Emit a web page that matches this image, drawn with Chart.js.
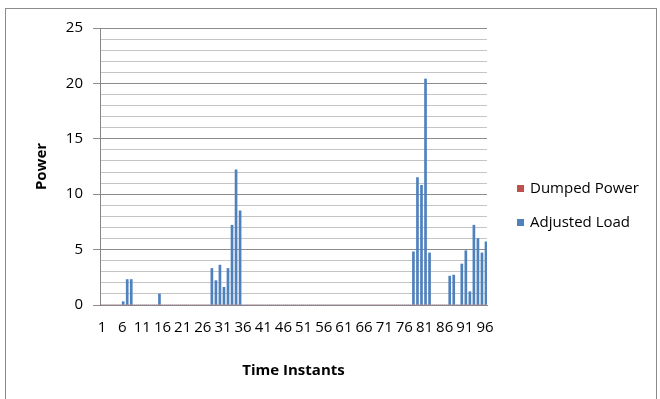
<!DOCTYPE html>
<html>
<head>
<meta charset="utf-8">
<script src="https://cdn.jsdelivr.net/npm/chart.js@4"></script>
<style>
  html, body { margin: 0; padding: 0; background: #fff; }
  #c { display: block; }
</style>
</head>
<body>
<canvas id="c" width="660" height="399"></canvas>
<script>
const categories = [
  '1','2','3','4','5','6','7','8','9','10','11','12','13','14','15','16','17','18','19','20',
  '21','22','23','24','25','26','27','28','29','30','31','32','33','34','35','36','37','38','39','40',
  '41','42','43','44','45','46','47','48','49','50','51','52','53','54','55','56','57','58','59','60',
  '61','62','63','64','65','66','67','68','69','70','71','72','73','74','75','76','77','78','79','80',
  '81','82','83','84','85','86','87','88','89','90','91','92','93','94','95','96'
];
const dumpedPower = [
  0,0,0,0,0,0,0,0,0,0, 0,0,0,0,0,0,0,0,0,0,
  0,0,0,0,0,0,0,0,0,0, 0,0,0,0,0,0,0,0,0,0,
  0,0,0,0,0,0,0,0,0,0, 0,0,0,0,0,0,0,0,0,0,
  0,0,0,0,0,0,0,0,0,0, 0,0,0,0,0,0,0,0,0,0,
  0,0,0,0,0,0,0,0,0,0, 0,0,0,0,0,0
];
const adjustedLoad = [
  0,0,0,0,0,0.3,2.3,2.3,0,0, 0,0,0,0,1.0,0,0,0,0,0,
  0,0,0,0,0,0,0,3.3,2.2,3.6, 1.6,3.3,7.2,12.2,8.5,0,0,0,0,0,
  0,0,0,0,0,0,0,0,0,0, 0,0,0,0,0,0,0,0,0,0,
  0,0,0,0,0,0,0,0,0,0, 0,0,0,0,0,0,0,4.8,11.5,10.8,
  20.4,4.7,0,0,0,0,2.6,2.7,0,3.7, 4.9,1.2,7.2,6.0,4.7,5.7
];
const xTickLabels = ['1','6','11','16','21','26','31','36','41','46','51','56','61','66','71','76','81','86','91','96'];
const yTickLabels = [0, 5, 10, 15, 20, 25];
const seriesNames = ['Dumped Power', 'Adjusted Load'];
const seriesColors = ['#C0504D', '#4F81BD'];

const FONT = '"Open Sans", "Liberation Sans", sans-serif';

const framePlugin = {
  id: 'frame',
  beforeDraw(chart) {
    const ctx = chart.ctx;
    ctx.save();
    ctx.fillStyle = '#ffffff';
    ctx.fillRect(0, 0, chart.width, chart.height);
    ctx.strokeStyle = '#8c8c8c';
    ctx.lineWidth = 1;
    ctx.strokeRect(5.5, 8.5, 651, 400);
    ctx.restore();
  }
};

const legendPlugin = {
  id: 'customLegend',
  afterDraw(chart) {
    const ctx = chart.ctx;
    ctx.save();
    ctx.font = '15px ' + FONT;
    ctx.textBaseline = 'middle';
    ctx.textAlign = 'left';
    chart.data.datasets.forEach((ds, i) => {
      const y = 189 + i * 34;
      ctx.fillStyle = ds.backgroundColor;
      ctx.fillRect(517, y - 4, 7, 7);
      ctx.fillStyle = '#000';
      ctx.fillText(ds.label, 530, y);
    });
    ctx.restore();
  }
};

new Chart(document.getElementById('c'), {
  type: 'bar',
  data: {
    labels: categories,
    datasets: [
      { label: seriesNames[0], data: dumpedPower, backgroundColor: seriesColors[0], borderWidth: 0 },
      { label: seriesNames[1], data: adjustedLoad, backgroundColor: seriesColors[1], borderWidth: 0 }
    ]
  },
  options: {
    responsive: false,
    animation: false,
    devicePixelRatio: 1,
    layout: { padding: { left: 0, right: 173, top: 28, bottom: 0 } },
    datasets: { bar: { categoryPercentage: 1.0, barPercentage: 1.0 } },
    plugins: { legend: { display: false }, tooltip: { enabled: false } },
    scales: {
      x: {
        grid: { display: false, drawTicks: false },
        border: { display: true, color: '#868686', width: 1 },
        ticks: {
          autoSkip: false,
          maxRotation: 0,
          minRotation: 0,
          padding: 14,
          color: '#000',
          font: { family: FONT, size: 15 },
          callback: function(v, i) {
            const lab = categories[i];
            return xTickLabels.includes(lab) ? lab : '';
          }
        },
        title: {
          display: true,
          text: 'Time Instants',
          color: '#000',
          font: { family: FONT, size: 15, weight: 'bold' },
          padding: { top: 0, bottom: 19 }
        },
        afterFit(s) { s.height = 94; }
      },
      y: {
        min: 0,
        max: 25,
        ticks: {
          stepSize: 1,
          autoSkip: false,
          padding: 10,
          color: '#000',
          font: { family: FONT, size: 15 },
          callback: function(v) { return yTickLabels.includes(v) ? String(v) : ''; }
        },
        grid: {
          drawTicks: true,
          tickLength: 7,
          color: ctx => (ctx.tick && ctx.tick.value % 5 === 0) ? '#8c8c8c' : '#c4c4c4',
          tickColor: ctx => (ctx.tick && ctx.tick.value % 5 === 0) ? '#8c8c8c' : 'rgba(0,0,0,0)'
        },
        border: { display: true, color: '#868686', width: 1 },
        title: {
          display: true,
          text: 'Power',
          color: '#000',
          font: { family: FONT, size: 15, weight: 'bold' },
          padding: { top: 33, bottom: 0 }
        },
        afterFit(s) { s.width = 100; }
      }
    }
  },
  plugins: [framePlugin, legendPlugin]
});
</script>
</body>
</html>
